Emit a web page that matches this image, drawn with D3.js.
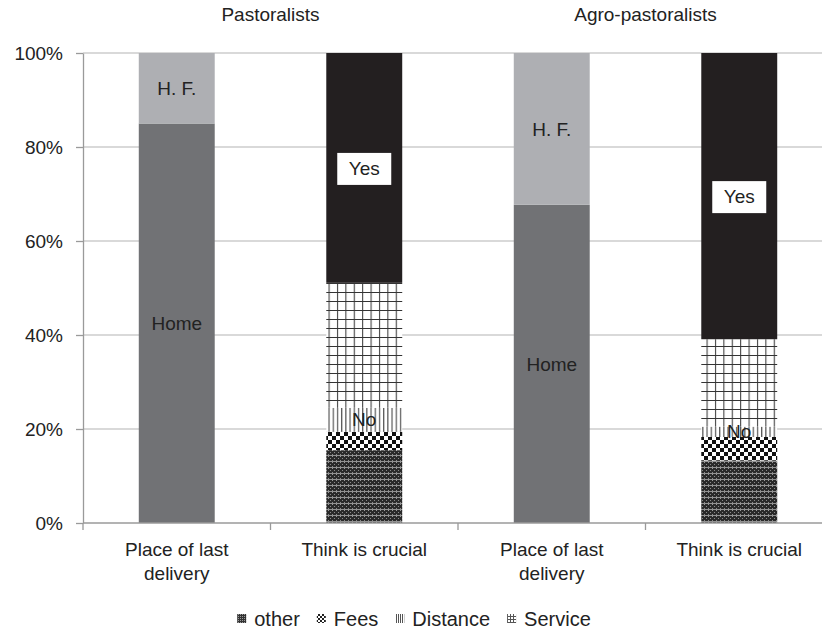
<!DOCTYPE html>
<html><head><meta charset="utf-8">
<script src="https://cdn.jsdelivr.net/npm/d3@7"></script>
<style>body{margin:0;background:#fff}svg{display:block;font-family:"Liberation Sans",Arial,sans-serif}</style>
</head><body><svg id="c" width="822" height="629"></svg>
<script>
// ---- data ----
const groups = ["Pastoralists", "Agro-pastoralists"];
const categories = ["Place of last delivery", "Think is crucial"];
const home = [85.0, 67.7];
const hf = [15.0, 32.3];
const other = [15.5, 13.3];
const fees = [3.9, 5.0];
const distance = [5.1, 2.2];
const service = [26.6, 18.6];
const yes = [48.9, 60.9];
const yTicks = [0, 20, 40, 60, 80, 100];
const legendItems = ["other", "Fees", "Distance", "Service"];

const svg = d3.select("#c");
const W = 822, H = 629;
const m = {l: 83, r: -11, t: 53, b: 106};
const x0 = m.l, x1 = W - m.r;
const yTop = m.t, yBot = H - m.b;

// slots
const slots = [];
groups.forEach((g, gi) => categories.forEach((c, ci) => slots.push({key: gi + "-" + ci, g: gi, c: ci, label: c})));
const x = d3.scaleBand().domain(slots.map(d => d.key)).range([x0, x1]).paddingInner(0.595).paddingOuter(0.2975);
const y = d3.scaleLinear().domain([0, 100]).range([yBot, yTop]);

// patterns
const defs = svg.append("defs");
function pat(id, w, h, draw) {
  const p = defs.append("pattern").attr("id", id).attr("patternUnits", "userSpaceOnUse").attr("width", w).attr("height", h);
  draw(p);
}
pat("p-other", 4, 6, p => {
  p.append("rect").attr("width", 4).attr("height", 6).attr("fill", "#2a2a2a");
  p.append("rect").attr("x", 0).attr("y", 0).attr("width", 1).attr("height", 1).attr("fill", "#9a9a9a");
  p.append("rect").attr("x", 2).attr("y", 2).attr("width", 1).attr("height", 1).attr("fill", "#8a8a8a");
  p.append("rect").attr("x", 0).attr("y", 4).attr("width", 1).attr("height", 1).attr("fill", "#8a8a8a");
  p.append("rect").attr("x", 0).attr("y", 5).attr("width", 4).attr("height", 1).attr("fill", "#bdbdbd").attr("opacity", 0.7);
});
pat("p-fees", 8, 8, p => {
  p.append("rect").attr("width", 8).attr("height", 8).attr("fill", "#fff");
  p.append("rect").attr("x", 0).attr("y", 0).attr("width", 4).attr("height", 4).attr("fill", "#111");
  p.append("rect").attr("x", 4).attr("y", 4).attr("width", 4).attr("height", 4).attr("fill", "#111");
});
pat("p-dist", 4.2, 10, p => {
  p.append("rect").attr("width", 4.2).attr("height", 10).attr("fill", "#fff");
  p.append("rect").attr("x", 1).attr("y", 0).attr("width", 1).attr("height", 10).attr("fill", "#333");
});
pat("p-serv", 8.4, 9, p => {
  p.append("rect").attr("width", 8.4).attr("height", 9).attr("fill", "#fff");
  p.append("rect").attr("x", 1).attr("y", 0).attr("width", 1).attr("height", 9).attr("fill", "#333");
  p.append("rect").attr("x", 0).attr("y", 4).attr("width", 8.4).attr("height", 1).attr("fill", "#333");
});
// small legend versions
pat("l-other", 2, 2, p => {
  p.append("rect").attr("width", 2).attr("height", 2).attr("fill", "#333");
  p.append("rect").attr("width", 1).attr("height", 1).attr("fill", "#999");
});
pat("l-fees", 4, 4, p => {
  p.append("rect").attr("width", 4).attr("height", 4).attr("fill", "#fff");
  p.append("rect").attr("width", 2).attr("height", 2).attr("fill", "#222");
  p.append("rect").attr("x", 2).attr("y", 2).attr("width", 2).attr("height", 2).attr("fill", "#222");
});
pat("l-dist", 2, 4, p => {
  p.append("rect").attr("width", 2).attr("height", 4).attr("fill", "#fff");
  p.append("rect").attr("width", 1).attr("height", 4).attr("fill", "#555");
});
pat("l-serv", 3, 3, p => {
  p.append("rect").attr("width", 3).attr("height", 3).attr("fill", "#fff");
  p.append("rect").attr("width", 1).attr("height", 3).attr("fill", "#555");
  p.append("rect").attr("y", 1).attr("width", 3).attr("height", 1).attr("fill", "#555");
});

// gridlines
svg.append("g").selectAll("line").data(yTicks.filter(t => t > 0)).join("line")
  .attr("x1", x0).attr("x2", W).attr("y1", d => y(d)).attr("y2", d => y(d))
  .attr("stroke", "#b4b4b4").attr("stroke-width", 1.2);

// y axis
const ya = svg.append("g").attr("transform", `translate(${x0},0)`)
  .call(d3.axisLeft(y).tickValues(yTicks).tickFormat(d => d + "%").tickSize(7).tickSizeOuter(0));
ya.select(".domain").attr("stroke", "#9a9a9a").attr("stroke-width", 1.3);
ya.selectAll(".tick line").attr("stroke", "#9a9a9a").attr("stroke-width", 1.3);
ya.selectAll("text").attr("font-size", 19).attr("fill", "#222").attr("font-family", "Liberation Sans, Arial, sans-serif").attr("x", -20);

// bars
const bw = x.bandwidth();
const segs = [];
groups.forEach((g, gi) => {
  let base = 0;
  [["Home", home[gi], "#717275"], ["H. F.", hf[gi], "#aeafb3"]].forEach(([n, v, f]) => {
    segs.push({slot: gi + "-0", n, y0: base, y1: base + v, fill: f}); base += v;
  });
  base = 0;
  [["other", other[gi], "url(#p-other)"], ["Fees", fees[gi], "url(#p-fees)"], ["Distance", distance[gi], "url(#p-dist)"],
   ["Service", service[gi], "url(#p-serv)"], ["Yes", yes[gi], "#231f20"]].forEach(([n, v, f]) => {
    segs.push({slot: gi + "-1", n, y0: base, y1: base + v, fill: f}); base += v;
  });
});
svg.append("g").selectAll("rect").data(segs).join("rect")
  .attr("x", d => x(d.slot)).attr("width", bw)
  .attr("y", d => y(d.y1)).attr("height", d => y(d.y0) - y(d.y1))
  .attr("fill", d => d.fill);

// x axis
const xa = svg.append("g").attr("transform", `translate(0,${yBot})`);
xa.append("line").attr("x1", x0).attr("x2", W).attr("stroke", "#9a9a9a").attr("stroke-width", 1.3);
const bounds = [x0, ...slots.map(s => x(s.key) + bw / 2 + x.step() / 2)];
xa.selectAll("line.t").data(bounds).join("line").attr("class", "t")
  .attr("x1", d => d).attr("x2", d => d).attr("y1", 0).attr("y2", 7).attr("stroke", "#9a9a9a").attr("stroke-width", 1.3);
slots.forEach(s => {
  const cx = x(s.key) + bw / 2;
  const lines = s.c === 0 ? ["Place of last", "delivery"] : [s.label];
  lines.forEach((t, i) => xa.append("text").attr("x", cx).attr("y", 33 + i * 24).attr("text-anchor", "middle")
    .attr("font-size", 19).attr("fill", "#222").text(t));
});

// group titles
groups.forEach((g, gi) => {
  const cx = (x(gi + "-0") + x(gi + "-1")) / 2 + bw / 2;
  svg.append("text").attr("x", cx).attr("y", 21).attr("text-anchor", "middle").attr("font-size", 19).attr("fill", "#222").text(g);
});

// segment labels
const lab = svg.append("g").attr("font-size", 19).attr("fill", "#222").attr("text-anchor", "middle");
segs.forEach(d => {
  const cx = x(d.slot) + bw / 2, cy = y((d.y0 + d.y1) / 2);
  if (d.n === "Home" || d.n === "H. F.") {
    lab.append("text").attr("x", cx).attr("y", cy).attr("dy", "0.35em").text(d.n);
  } else if (d.n === "Yes") {
    lab.append("rect").attr("x", cx - 27).attr("y", cy - 15).attr("width", 54).attr("height", 32).attr("fill", "#fff");
    lab.append("text").attr("x", cx).attr("y", cy).attr("dy", "0.35em").text("Yes");
  } else if (d.n === "Distance") {
    lab.append("text").attr("x", cx).attr("y", cy).attr("dy", "0.35em").text("No");
  }
});

// legend
const lg = svg.append("g").attr("font-size", 20).attr("fill", "#222");
const iconW = 9, gapIT = 8, gapItems = 17;
const tmp = lg.append("text").attr("visibility", "hidden");
const widths = legendItems.map(t => { tmp.text(t); return tmp.node().getComputedTextLength(); });
tmp.remove();
const total = d3.sum(widths) + legendItems.length * (iconW + gapIT) + (legendItems.length - 1) * gapItems;
let lx = 414 - total / 2;
const ly = 626;
const lfills = ["url(#l-other)", "url(#l-fees)", "url(#l-dist)", "url(#l-serv)"];
legendItems.forEach((t, i) => {
  lg.append("rect").attr("x", lx).attr("y", ly - 12).attr("width", iconW).attr("height", iconW).attr("fill", lfills[i]);
  lx += iconW + gapIT;
  lg.append("text").attr("x", lx).attr("y", ly).text(t);
  lx += widths[i] + gapItems;
});
</script></body></html>
